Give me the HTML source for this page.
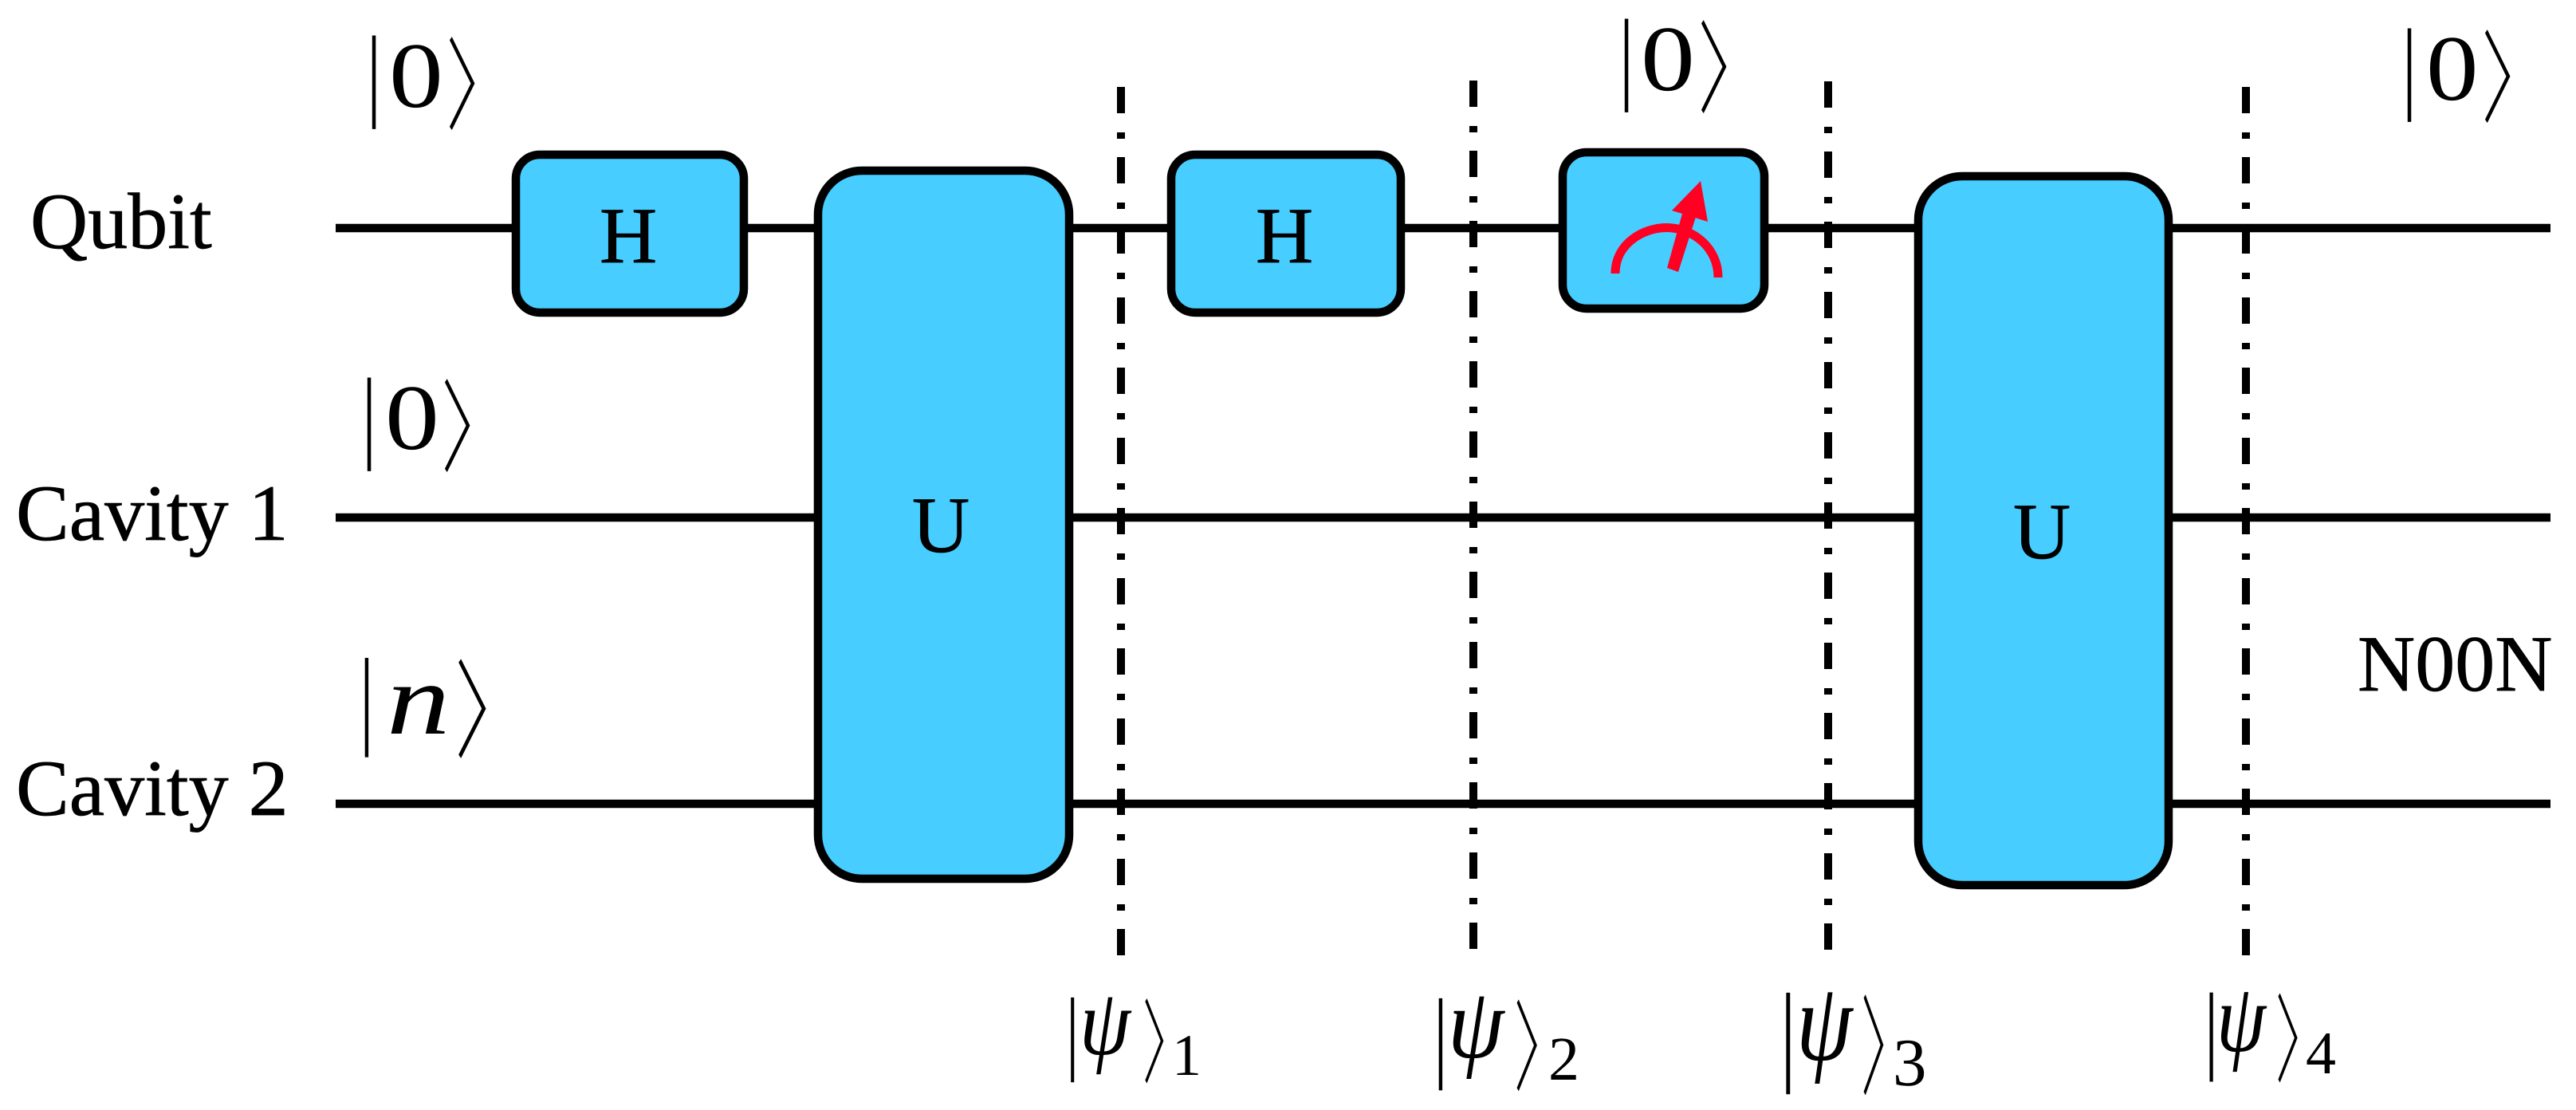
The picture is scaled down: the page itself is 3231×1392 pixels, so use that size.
<!DOCTYPE html>
<html><head><meta charset="utf-8"><style>
html,body{margin:0;padding:0;background:#fff}
svg{display:block}
text{fill:#000;font-family:"Liberation Serif","Noto Serif CJK SC",serif;text-rendering:geometricPrecision}
.a{font-family:"Noto Serif CJK SC","Liberation Serif",serif;stroke:#000;stroke-width:1.6}
.p{font-style:italic}
.l text{stroke:#000;stroke-width:.7}
</style></head><body>
<svg width="3231" height="1392" viewBox="0 0 3231 1392" xmlns="http://www.w3.org/2000/svg">
<g stroke="#000" stroke-width="10.5" fill="none">
<path d="M421 286H3199M421 649H3199M421 1008H3199"/>
</g>
<g stroke="#000" stroke-width="10" fill="none" stroke-dasharray="33 24 8 23">
<path d="M1406 109V1201M1848 101V1192M2293 102V1193M2817 109V1201"/>
</g>
<g fill="#47cdff" stroke="#000" stroke-width="10.5">
<rect x="647" y="194" width="286" height="198" rx="30"/>
<rect x="1469" y="194" width="288" height="198" rx="30"/>
<rect x="1960" y="191" width="253" height="196" rx="30"/>
<rect x="1026" y="214" width="315" height="888" rx="55"/>
<rect x="2406" y="221" width="314" height="889" rx="55"/>
</g>
<path d="M2026 343C2026 305 2062 285.5 2090 285.5C2125 285.5 2155 312 2155 348" fill="none" stroke="#ff0022" stroke-width="11"/>
<polygon fill="#ff0022" points="2091,336 2105,341 2127,272 2110,268"/>
<polygon fill="#ff0022" points="2133,227 2097,264 2142,278"/>

<g font-size="100" class="l">
<text x="38" y="311">Qubit</text>
<text x="20" y="677">Cavity 1</text>
<text x="20" y="1022">Cavity 2</text>
<text x="752" y="329">H</text>
<text x="1575" y="329">H</text>
<text x="1144" y="692">U</text>
<text x="2525" y="700">U</text>
<text x="2957" y="866">N00N</text>
</g>

<g transform="translate(469,134)"><text transform="translate(-9,0) scale(.7,1)" font-size="129">|</text><text transform="translate(19,0) scale(1.16,1)" font-size="117">0</text><text class="a" transform="translate(93,17) scale(.575,1)" font-size="122">〉</text></g>
<g transform="translate(463,563)"><text transform="translate(-9,0) scale(.7,1)" font-size="129">|</text><text transform="translate(20,0) scale(1.16,1)" font-size="117">0</text><text class="a" transform="translate(93,17) scale(.575,1)" font-size="122">〉</text></g>
<g transform="translate(2040,113)"><text transform="translate(-9,0) scale(.7,1)" font-size="129">|</text><text transform="translate(18,0) scale(1.16,1)" font-size="117">0</text><text class="a" transform="translate(92,17) scale(.575,1)" font-size="122">〉</text></g>
<g transform="translate(3022,125)"><text transform="translate(-9,0) scale(.7,1)" font-size="129">|</text><text transform="translate(21,0) scale(1.12,1)" font-size="117">0</text><text class="a" transform="translate(93,17) scale(.575,1)" font-size="122">〉</text></g>

<g transform="translate(461,920)"><text transform="translate(-10,0) scale(.65,1)" font-size="137">|</text><text class="p" transform="translate(24,0) scale(1.25,1)" font-size="127">n</text><text class="a" transform="translate(112,18) scale(.59,1)" font-size="130">〉</text></g>

<g transform="translate(1345,1332)"><text transform="translate(-8,0) scale(.7,1)" font-size="117">|</text><text class="p" transform="translate(9,-10) scale(.98,1.13)" font-size="105">ψ</text><text class="a" transform="translate(90,15.5) scale(.46,1)" font-size="111">〉</text><text x="125" y="16" font-size="74">1</text></g>
<g transform="translate(1806,1340)"><text transform="translate(-8,0) scale(.7,1)" font-size="127">|</text><text class="p" transform="translate(10,-14) scale(1.08,1.21)" font-size="105">ψ</text><text class="a" transform="translate(95,16.5) scale(.47,1)" font-size="120">〉</text><text x="136" y="14" font-size="78">2</text></g>
<g transform="translate(2241,1342)"><text transform="translate(-8,0) scale(.7,1)" font-size="140">|</text><text class="p" transform="translate(12,-13) scale(1.08,1.34)" font-size="105">ψ</text><text class="a" transform="translate(95,18.5) scale(.42,1)" font-size="132">〉</text><text x="133" y="19" font-size="85">3</text></g>
<g transform="translate(2773,1330)"><text transform="translate(-8,0) scale(.7,1)" font-size="123">|</text><text class="p" transform="translate(7,-12) scale(.95,1.17)" font-size="105">ψ</text><text class="a" transform="translate(83,16) scale(.46,1)" font-size="117">〉</text><text x="119" y="16" font-size="76">4</text></g>
</svg>
</body></html>
